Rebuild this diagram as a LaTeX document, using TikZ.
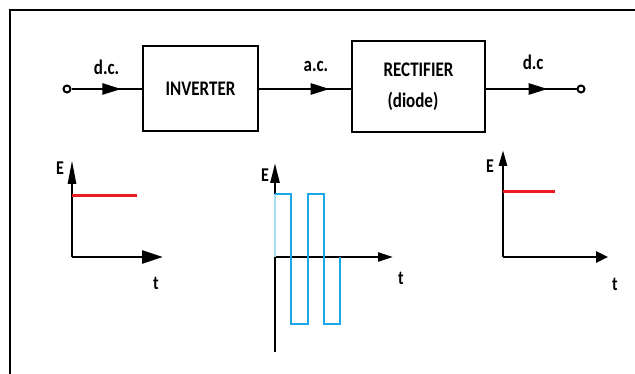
\documentclass[tikz,border=0pt]{standalone}
\usepackage{fontspec}
\setmainfont{Carlito}
\usepackage{xcolor}
\usetikzlibrary{arrows.meta,positioning,decorations.markings}

\definecolor{dcred}{HTML}{ED1C24}
\definecolor{acblue}{HTML}{1AA7E8}
\definecolor{acpale}{HTML}{A8DDF0}
\newcommand{\tallword}[1]{\scalebox{1}[1.22]{#1}}

\begin{document}
\begin{tikzpicture}[
    x=1pt, y=-1pt,
    block/.style={draw=black, line width=2.6pt, inner sep=0pt, align=left, font=\fontsize{17}{31}\selectfont\bfseries},
    terminal/.style={circle, draw=black, fill=white, line width=2pt, minimum size=7pt, inner sep=0pt},
    lbl/.style={font=\fontsize{17}{20}\selectfont\bfseries, inner sep=0pt},
    axlbl/.style={font=\fontsize{16}{19}\selectfont\bfseries, inner sep=0pt},
    flow/.style={line width=2.6pt, postaction={decorate}, decoration={markings, mark=at position #1 with {\arrow{Triangle[length=19pt,width=11pt]}}}},
    axis/.style={line width=2.6pt},
    dcline/.style={dcred, line width=3pt},
    acline/.style={acblue, line width=2.6pt},
    frame/.style={line width=2.4pt}
]
    \useasboundingbox (0,0) rectangle (635,374);

    % Frame
    \draw[frame] (10,374) -- (10,10) -- (635,10);

    % Block chain
    \node[terminal] (in) at (67,89) {};
    \node[block, minimum width=115pt, minimum height=85pt] (inv) at (200.5,88.5) {\tallword{INVERTER}};
    \node[block, minimum width=133pt, minimum height=91pt] (rect) at (418.5,86.5) {\tallword{RECTIFIER}\\\hspace*{4pt}\tallword{(diode)}};
    \node[terminal] (out) at (581,89) {};

    \draw[flow=0.71] (in) -- node[lbl, pos=0.5, above=13pt] {\tallword{d.c.}} (in -| inv.west);
    \draw[flow=0.77] (in -| inv.east) -- node[lbl, pos=0.62, above=16pt] {\tallword{a.c.}} (in -| rect.west);
    \draw[flow=0.68] (in -| rect.east) -- node[lbl, pos=0.52, above=18pt] {\tallword{d.c}} (out);

    % Input d.c. plot
    \coordinate (o1) at (72,257);
    \draw[axis, -{Triangle[length=24pt,width=8pt]}] (o1) -- (72,160);
    \draw[axis, -{Triangle[length=21pt,width=13pt]}] (o1) -- (163,257);
    \draw[dcline] (72,196) -- (137,196);
    \node[axlbl] (e1) at (60,168) {\tallword{E}};
    \node[axlbl] (t1) at (156,283) {\tallword{t}};

    % a.c. plot
    \coordinate (o2) at (275,257);
    \draw[axis] (o2) -- (275,352);
    \draw[axis, -{Triangle[length=20pt,width=9pt]}] (o2) -- (275,163);
    \draw[axis, -{Triangle[length=15pt,width=9pt]}] (o2) -- (393,257);
    \draw[acpale, line width=2.4pt] (o2) -- (275,194);
    \draw[acline] (275,194) -- (291,194) -- (291,324) -- (308,324) -- (308,194)
        -- (324,194) -- (324,324) -- (340,324) -- (340,257);
    \node[axlbl] (e2) at (265,175) {\tallword{E}};
    \node[axlbl] (t2) at (401,278) {\tallword{t}};

    % Output d.c. plot
    \coordinate (o3) at (503,257);
    \draw[axis, -{Triangle[length=16pt,width=8pt]}] (o3) -- (503,150);
    \draw[axis, -{Triangle[length=12pt,width=11pt]}] (o3) -- (608,257);
    \draw[dcline] (503,192) -- (555,192);
    \node[axlbl] (e3) at (490,166) {\tallword{E}};
    \node[axlbl] (t3) at (615,284) {\tallword{t}};
\end{tikzpicture}
\end{document}
